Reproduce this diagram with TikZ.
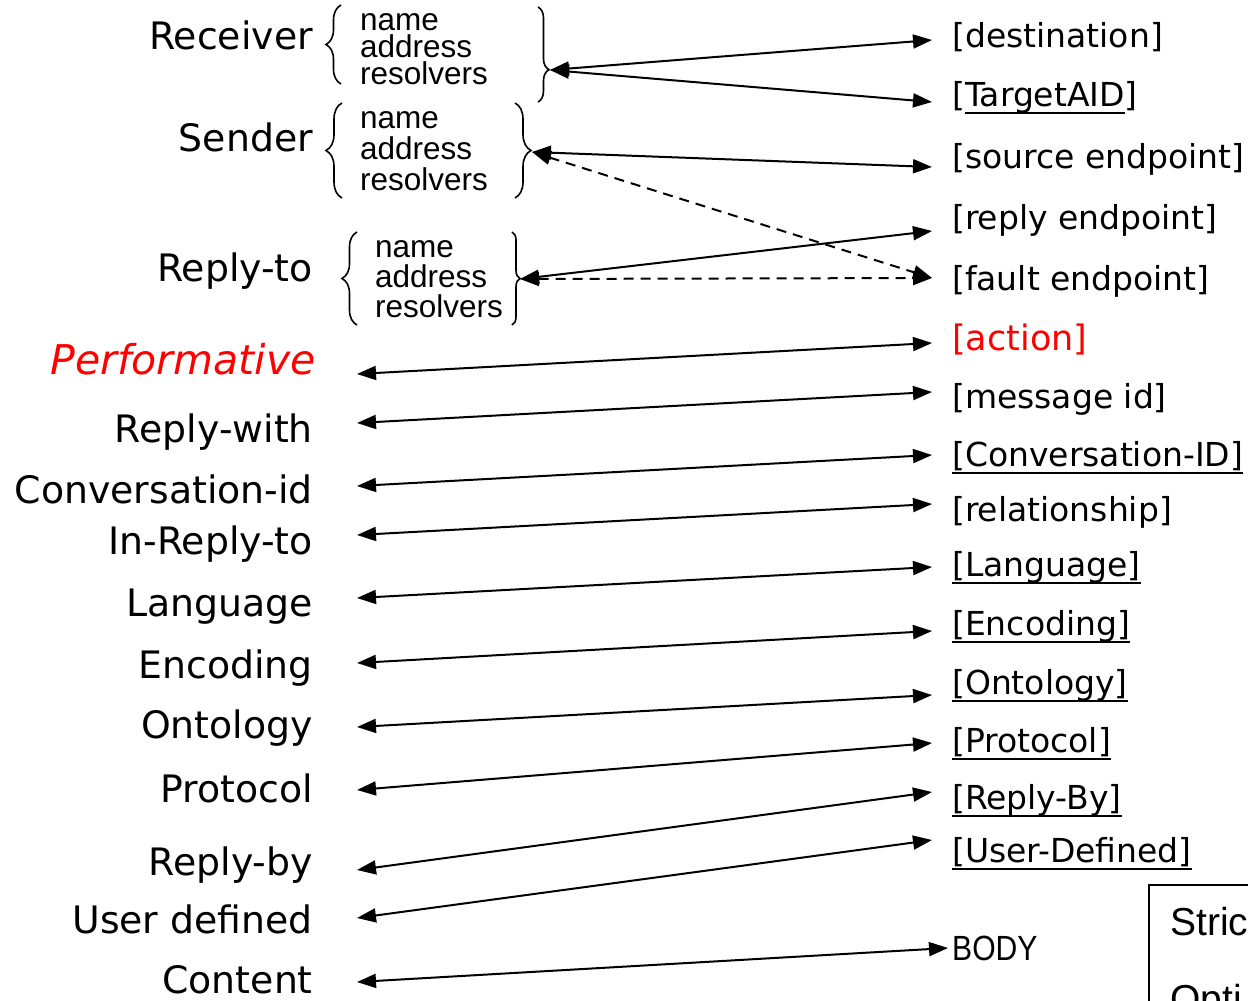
\documentclass[tikz,border=0pt]{standalone}
\usepackage{fontspec}
\setmainfont{DejaVu Sans}
\newfontfamily\subfont{Liberation Sans}
\newfontfamily\narrowfont[FakeStretch=0.86]{Liberation Sans}
\newsavebox{\ulbox}
\newcommand{\uln}[1]{\sbox{\ulbox}{#1}\rlap{\rule[-8pt]{\wd\ulbox}{2.4pt}}\usebox{\ulbox}}
\usetikzlibrary{arrows.meta,decorations.pathreplacing}

\begin{document}
\begin{tikzpicture}[
	x=1pt, y=-1pt,
	lbl/.style={anchor=base east, inner sep=0, font=\fontsize{37.8}{40}\selectfont},
	fld/.style={anchor=base west, inner sep=0, font=\fontsize{33}{36}\selectfont},
	sub/.style={anchor=base west, inner sep=0, align=left, font=\subfont\fontsize{31.5}{#1}\selectfont},
	brc/.style={decorate, decoration={brace, amplitude=#1}, line width=1.6pt},
	dbl/.style={<->, >={Triangle[length=19pt,width=14pt]}, line width=2pt},
	dsh/.style={dbl, dash pattern=on 10pt off 7pt}
]
	\useasboundingbox (0,0) rectangle (1248,1001);
	\clip (0,0) rectangle (1248,1001);

	% left column
	\node[lbl] (rcv) at (313,49) {Receiver};
	\node[lbl] (snd) at (313,151) {Sender};
	\node[lbl] (rpt) at (313,281) {Reply-to};
	\node[lbl, text=red, font=\itshape\fontsize{41}{42}\selectfont] (perf) at (316,374) {Performative};
	\node[lbl] (rwith) at (313,442) {Reply-with};
	\node[lbl] (convid) at (313,503) {Conversation-id};
	\node[lbl] (inrep) at (313,554) {In-Reply-to};
	\node[lbl] (lang) at (313,616) {Language};
	\node[lbl] (enc) at (313,678) {Encoding};
	\node[lbl] (onto) at (313,738) {Ontology};
	\node[lbl] (proto) at (313,802) {Protocol};
	\node[lbl] (rby) at (313,875) {Reply-by};
	\node[lbl] (udef) at (313,933) {User defined};
	\node[lbl] (cont) at (313,993) {Content};

	% address fields (base = last line)
	\node[sub=27] (rcvflds) at (360,84) {name\\address\\resolvers};
	\node[sub=31] (sndflds) at (360,190) {name\\address\\resolvers};
	\node[sub=30] (rptflds) at (375,317) {name\\address\\resolvers};
	\draw[brc=15pt] (341,84) -- (341,5);
	\draw[brc=11pt, decoration={aspect=0.66}] (538,7) -- (538,102);
	\draw[brc=16pt] (342,198) -- (342,103);
	\draw[brc=16pt] (515,103) -- (515,198);
	\draw[brc=15pt] (357,325) -- (357,232);
	\draw[brc=8pt] (512,232) -- (512,325);

	% right column
	\node[fld] (dest) at (952,47) {[destination]};
	\node[fld] (tgt) at (952,106) {[\uln{TargetAID}]};
	\node[fld] (srcep) at (952,168) {[source endpoint]};
	\node[fld] (repep) at (952,229) {[reply endpoint]};
	\node[fld] (fltep) at (952,290) {[fault endpoint]};
	\node[fld, text=red, font=\fontsize{35}{36}\selectfont] (act) at (952,350) {[action]};
	\node[fld] (msgid) at (952,408) {[message id]};
	\node[fld] (convID) at (952,466) {\uln{[Conversation-ID]}};
	\node[fld] (rel) at (952,521) {[relationship]};
	\node[fld] (langf) at (952,576) {\uln{[Language]}};
	\node[fld] (encf) at (952,635) {\uln{[Encoding]}};
	\node[fld] (ontof) at (952,694) {\uln{[Ontology]}};
	\node[fld] (protof) at (952,752) {\uln{[Protocol]}};
	\node[fld] (rbyf) at (952,809) {\uln{[Reply-By]}};
	\node[fld] (udeff) at (952,862) {\uln{[User-Defined]}};
	\node[anchor=base west, inner sep=0, font=\narrowfont\fontsize{35}{40}\selectfont] (body) at (952,960) {BODY};

	% box cut by the frame
	\draw[line width=1.5pt] (1149,1040) -- (1149,885) -- (1290,885);
	\node[anchor=base west, inner sep=0, font=\subfont\fontsize{39}{40}\selectfont] (strict) at (1170,935) {Stric};
	\node[anchor=base west, inner sep=0, font=\subfont\fontsize{39}{40}\selectfont] (opt) at (1170,1012) {Opti};

	% arrow ends
	\path
		(550,70) coordinate (rcvtip)
		(532,152) coordinate (sndtip)
		(520,279) coordinate (rpttip)
		(932,40) coordinate (dest-w)
		(932,102) coordinate (tgt-w)
		(932,167) coordinate (srcep-w)
		(932,231) coordinate (repep-w)
		(932,278) coordinate (fltep-w)
		(357,374) coordinate (perf-e)   (932,343) coordinate (act-w)
		(357,423) coordinate (rwith-e)  (932,392) coordinate (msgid-w)
		(357,486) coordinate (convid-e) (932,455) coordinate (convID-w)
		(357,535) coordinate (inrep-e)  (932,504) coordinate (rel-w)
		(357,598) coordinate (lang-e)   (932,567) coordinate (langf-w)
		(357,663) coordinate (enc-e)    (932,631) coordinate (encf-w)
		(357,727) coordinate (onto-e)   (932,695) coordinate (ontof-w)
		(357,790) coordinate (proto-e)  (932,743) coordinate (protof-w)
		(357,870) coordinate (rby-e)    (932,792) coordinate (rbyf-w)
		(357,918) coordinate (udef-e)   (932,840) coordinate (udeff-w)
		(357,982) coordinate (cont-e)   (948,948) coordinate (body-w)
	;

	\draw[dbl] (rcvtip) -- (dest-w);
	\draw[dbl] (rcvtip) -- (tgt-w);
	\draw[dbl] (sndtip) -- (srcep-w);
	\draw[dsh] (sndtip) -- (fltep-w);
	\draw[dbl] (rpttip) -- (repep-w);
	\draw[dsh] (rpttip) -- (fltep-w);
	\draw[dbl] (perf-e) -- (act-w);
	\draw[dbl] (rwith-e) -- (msgid-w);
	\draw[dbl] (convid-e) -- (convID-w);
	\draw[dbl] (inrep-e) -- (rel-w);
	\draw[dbl] (lang-e) -- (langf-w);
	\draw[dbl] (enc-e) -- (encf-w);
	\draw[dbl] (onto-e) -- (ontof-w);
	\draw[dbl] (proto-e) -- (protof-w);
	\draw[dbl] (rby-e) -- (rbyf-w);
	\draw[dbl] (udef-e) -- (udeff-w);
	\draw[dbl] (cont-e) -- (body-w);
\end{tikzpicture}
\end{document}
